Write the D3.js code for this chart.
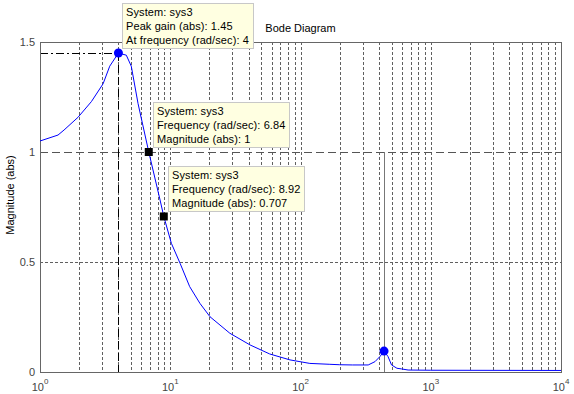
<!DOCTYPE html>
<html>
<head>
<meta charset="utf-8">
<script src="https://cdn.jsdelivr.net/npm/d3@7"></script>
<style>
  body { margin: 0; background: #fff; }
  svg { display: block; font-family: "Liberation Sans", Arial, sans-serif; }
  .tick-label { font-size: 11px; fill: #444; }
  .tip text { font-size: 11px; letter-spacing: 0.1px; fill: #000; }
</style>
</head>
<body>
<div id="chart"></div>
<script>
// frequency response (rad/sec, abs magnitude)
const freq = [1, 1.375, 1.53, 1.96, 2.48, 3.05, 3.43, 4, 4.6, 5.02, 5.66, 6.84, 8.35, 8.92,
  10.2, 11.9, 14.1, 16.9, 20.2, 28.7, 41, 58, 83, 118, 168, 200, 250, 331, 373, 407, 438,
  470, 500, 550, 596, 670, 1000, 10000];
const mag = [1.05, 1.077, 1.10, 1.158, 1.229, 1.31, 1.39, 1.45, 1.44, 1.39, 1.22, 1.0, 0.782, 0.707,
  0.585, 0.494, 0.388, 0.312, 0.251, 0.176, 0.123, 0.082, 0.055, 0.039, 0.035, 0.033, 0.032, 0.032, 0.047, 0.07, 0.095,
  0.07, 0.032, 0.017, 0.014, 0.009, 0.008, 0.007];

const yTicks = [0, 0.5, 1, 1.5];
const yTickLabels = ["0", "0.5", "1", "1.5"];
const xDecades = [0, 1, 2, 3, 4];

// data tips
const tips = [
  { w: 4, m: 1.45, marker: "circle", lines: ["System: sys3", "Peak gain (abs): 1.45", "At frequency (rad/sec): 4"] },
  { w: 6.84, m: 1, marker: "square", lines: ["System: sys3", "Frequency (rad/sec): 6.84", "Magnitude (abs): 1"] },
  { w: 8.92, m: 0.707, marker: "square", lines: ["System: sys3", "Frequency (rad/sec): 8.92", "Magnitude (abs): 0.707"] }
];
const secondPeak = { w: 438, m: 0.095 };

const W = 574, H = 394;
const mLeft = 40, mRight = 561, mTop = 42, mBottom = 372;

const svg = d3.select("#chart").append("svg")
  .attr("width", W).attr("height", H);

const x = d3.scaleLog().domain([1, 10000]).range([mLeft, mRight]);
const y = d3.scaleLinear().domain([0, 1.5]).range([mBottom, mTop]);

// grid: vertical at 1..9 of every decade
const gridX = [];
for (let k = 0; k < 4; k++) {
  for (let j = 1; j < 10; j++) {
    if (k === 0 && j === 1) continue;
    gridX.push(j * Math.pow(10, k));
  }
}
svg.append("g").selectAll("line")
  .data(gridX)
  .enter().append("line")
  .attr("x1", d => Math.round(x(d)) + 0.5).attr("x2", d => Math.round(x(d)) + 0.5)
  .attr("y1", mTop).attr("y2", mBottom)
  .attr("stroke", "#606060").attr("stroke-dasharray", "3,2");

svg.append("line")
  .attr("x1", mLeft).attr("x2", mRight)
  .attr("y1", Math.round(y(0.5)) + 0.5).attr("y2", Math.round(y(0.5)) + 0.5)
  .attr("stroke", "#606060").attr("stroke-dasharray", "3,2");

svg.append("line")
  .attr("x1", mLeft).attr("x2", mRight)
  .attr("y1", Math.round(y(1)) + 0.5).attr("y2", Math.round(y(1)) + 0.5)
  .attr("stroke", "#555").attr("stroke-dasharray", "8,4");

// peak lines
const pk = tips[0];
svg.append("line")
  .attr("x1", mLeft).attr("x2", x(pk.w))
  .attr("y1", Math.round(y(pk.m)) + 0.5).attr("y2", Math.round(y(pk.m)) + 0.5)
  .attr("stroke", "#000").attr("stroke-dasharray", "8,3,2,3");
svg.append("line")
  .attr("x1", Math.round(x(pk.w)) + 0.5).attr("x2", Math.round(x(pk.w)) + 0.5)
  .attr("y1", y(pk.m)).attr("y2", mBottom)
  .attr("stroke", "#000").attr("stroke-dasharray", "8,4");

// vertical line at second resonance
svg.append("line")
  .attr("x1", Math.round(x(secondPeak.w)) + 0.5).attr("x2", Math.round(x(secondPeak.w)) + 0.5)
  .attr("y1", y(1)).attr("y2", mBottom)
  .attr("stroke", "#777");

// box
svg.append("rect")
  .attr("x", mLeft + 0.5).attr("y", mTop + 0.5)
  .attr("width", mRight - mLeft).attr("height", mBottom - mTop)
  .attr("fill", "none").attr("stroke", "#666");

// curve
const line = d3.line().x((d, i) => x(freq[i])).y(d => y(d));
svg.append("path")
  .datum(mag)
  .attr("d", line)
  .attr("fill", "none").attr("stroke", "#0000ff").attr("stroke-width", 1);

// y tick labels
svg.append("g").selectAll("text")
  .data(yTicks)
  .enter().append("text")
  .attr("class", "tick-label")
  .attr("x", mLeft - 5).attr("y", d => y(d) + 4)
  .attr("text-anchor", "end")
  .text((d, i) => yTickLabels[i]);

// x tick labels, 10 with superscript
const xl = svg.append("g").selectAll("text")
  .data(xDecades)
  .enter().append("text")
  .attr("class", "tick-label")
  .attr("x", d => x(Math.pow(10, d)))
  .attr("y", 391)
  .attr("text-anchor", "middle");
xl.append("tspan").text("10");
xl.append("tspan").attr("dy", -7).style("font-size", "8px").text(d => d);

// axis label and title
svg.append("text")
  .attr("transform", "translate(14,195) rotate(-90)")
  .attr("text-anchor", "middle")
  .style("font-size", "11px")
  .text("Magnitude (abs)");

svg.append("text")
  .attr("x", (mLeft + mRight) / 2).attr("y", 32)
  .attr("text-anchor", "middle")
  .style("font-size", "11px")
  .text("Bode Diagram");

// markers
svg.append("circle")
  .attr("cx", x(secondPeak.w)).attr("cy", y(secondPeak.m)).attr("r", 4.5)
  .attr("fill", "#0000ff");

tips.forEach(t => {
  const px = x(t.w), py = y(t.m);
  if (t.marker === "circle") {
    svg.append("circle").attr("cx", px).attr("cy", py).attr("r", 4.5).attr("fill", "#0000ff");
  } else {
    svg.append("rect").attr("x", px - 4).attr("y", py - 4).attr("width", 8).attr("height", 8).attr("fill", "#000");
  }
  const g = svg.append("g").attr("class", "tip");
  const box = g.append("rect")
    .attr("x", Math.round(px) + 4.5).attr("y", Math.round(py) - 49.5)
    .attr("height", 45)
    .attr("fill", "#ffffe1").attr("stroke", "#c8c8c8");
  let maxW = 0;
  t.lines.forEach((s, i) => {
    const tx = g.append("text")
      .attr("x", Math.round(px) + 8).attr("y", Math.round(py) - 37 + i * 14)
      .text(s);
    maxW = Math.max(maxW, tx.node().getComputedTextLength());
  });
  box.attr("width", Math.round(maxW) + 8);
});
</script>
</body>
</html>
